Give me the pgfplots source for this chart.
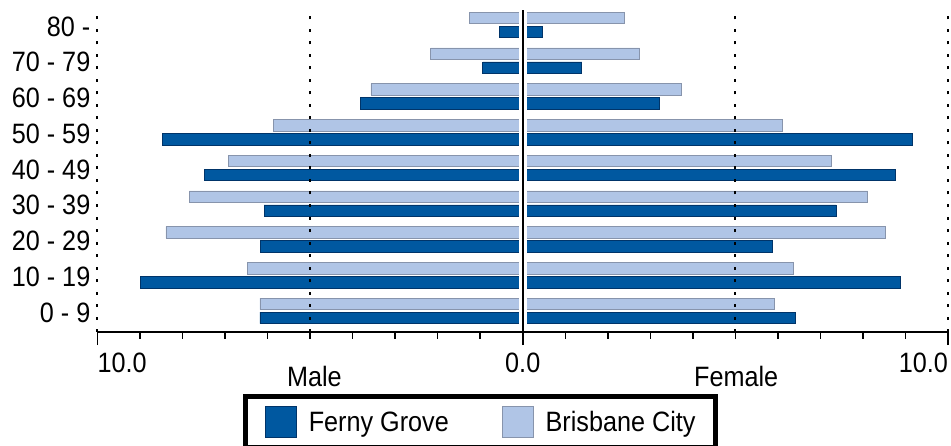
\documentclass[border=0pt]{standalone}
\usepackage{pgfplots}
\pgfplotsset{compat=1.18}
\usepackage{fontspec}
\setmainfont{Liberation Sans}[FakeStretch=0.9]
\definecolor{fg}{RGB}{0,88,160}
\definecolor{fgedge}{RGB}{0,52,105}
\definecolor{bc}{RGB}{176,197,230}
\definecolor{bcedge}{RGB}{135,148,172}
\begin{document}
\begin{tikzpicture}[font=\fontsize{28}{32}\selectfont]
\useasboundingbox (0,0) rectangle (951pt,445pt);
\begin{axis}[
  at={(97.5pt,113pt)}, anchor=south west,
  scale only axis, width=850.5pt, height=324.6pt,
  xmin=-10, xmax=10, ymin=-0.59, ymax=8.49,
  axis lines*=left,
  x axis line style={-, line width=1.5pt},
  y axis line style={-, line width=2pt, dash pattern=on 3pt off 9.5pt},
  xbar, bar width=11.5pt,
  xtick={-10,0,10}, xticklabels={,,},
  minor xtick={-9,-8,...,9},
  tick align=outside, major tick length=13pt, minor tick length=6.5pt,
  x tick style={black, line width=1.5pt},
  ytick={0,1,...,8},
  yticklabels={0 - 9,10 - 19,20 - 29,30 - 39,40 - 49,50 - 59,60 - 69,70 - 79,80 -},
  y tick style={draw=none},
  yticklabel style={anchor=east, inner sep=0pt, xshift=6pt, yshift=-1.5pt},
  clip=false,
  legend columns=2,
  legend cell align=left,
  legend style={at={(rel axis cs:0.1705,-0.19)}, anchor=north west,
    draw=black, line width=5pt, fill=white,
    inner xsep=20pt, inner ysep=10pt,
    font=\fontsize{28}{32}\selectfont,
    nodes={inner sep=0pt},
    /tikz/every odd column/.append style={column sep=12pt},
    /tikz/every even column/.append style={column sep=53pt}},
]
% Male (negative)
\addplot[fill=fg, draw=fgedge, line width=0.8pt, bar shift=-7pt,
  legend image code/.code={\draw[fill=fg, draw=fgedge, line width=0.8pt] (0pt,-15.5pt) rectangle (31pt,15.5pt);}]
  coordinates {(-6.18,0) (-8.99,1) (-6.17,2) (-6.08,3) (-7.48,4) (-8.48,5) (-3.82,6) (-0.94,7) (-0.55,8)};
\addlegendentry{Ferny Grove}
\addplot[fill=bc, draw=bcedge, line width=0.8pt, bar shift=7pt,
  legend image code/.code={\draw[fill=bc, draw=bcedge, line width=0.8pt] (0pt,-15.5pt) rectangle (31pt,15.5pt);}]
  coordinates {(-6.18,0) (-6.48,1) (-8.39,2) (-7.84,3) (-6.93,4) (-5.87,5) (-3.57,6) (-2.16,7) (-1.26,8)};
\addlegendentry{Brisbane City}
% Female (positive)
\addplot[fill=fg, draw=fgedge, line width=0.8pt, bar shift=-7pt, forget plot]
  coordinates {(6.40,0) (8.87,1) (5.86,2) (7.37,3) (8.77,4) (9.17,5) (3.21,6) (1.39,7) (0.47,8)};
\addplot[fill=bc, draw=bcedge, line width=0.8pt, bar shift=7pt, forget plot]
  coordinates {(5.91,0) (6.36,1) (8.52,2) (8.11,3) (7.26,4) (6.11,5) (3.74,6) (2.75,7) (2.39,8)};
% grid lines
\draw[line width=2pt, dash pattern=on 3pt off 9.5pt] (axis cs:-5,-0.59) -- (axis cs:-5,8.43);
\draw[line width=2pt, dash pattern=on 3pt off 9.5pt] (axis cs:5,-0.59) -- (axis cs:5,8.43);
\draw[line width=2pt, dash pattern=on 3pt off 9.5pt] (axis cs:10,-0.59) -- (axis cs:10,8.43);
% centre gap and line
\draw[white, line width=8pt] (axis cs:0,-0.52) -- (axis cs:0,8.45);
\draw[black, line width=2pt] (axis cs:0,-0.59) -- (axis cs:0,8.43);
% tick labels
\node[anchor=base west, inner sep=0pt] at ([yshift=-40pt]axis cs:-10,-0.59) {10.0};
\node[anchor=base, inner sep=0pt] at ([yshift=-40pt]axis cs:0,-0.59) {0.0};
\node[anchor=base east, inner sep=0pt] at ([yshift=-40pt]axis cs:10,-0.59) {10.0};
\node[anchor=base, inner sep=0pt] at ([yshift=-54pt]axis cs:-4.9,-0.59) {Male};
\node[anchor=base, inner sep=0pt] at ([yshift=-54pt]axis cs:5.02,-0.59) {Female};
\end{axis}
\end{tikzpicture}
\end{document}
